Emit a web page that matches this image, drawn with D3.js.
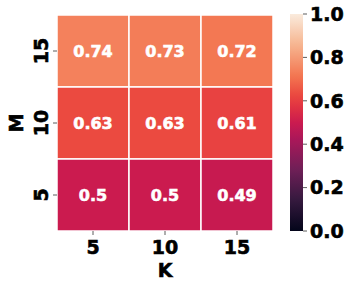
<!DOCTYPE html>
<html>
<head>
<meta charset="utf-8">
<script src="https://cdn.jsdelivr.net/npm/d3@7"></script>
<style>
  body { margin: 0; background: #fff; }
  text { font-family: "DejaVu Sans", sans-serif; font-weight: bold; stroke-width: 0.6px; }
</style>
</head>
<body>
<main></main>
<script>
// Data
const kValues = [5, 10, 15]
const mValues = [15, 10, 5]   // top to bottom
const scores = [
    [0.74, 0.73, 0.72],
    [0.63, 0.63, 0.61],
    [0.5, 0.5, 0.49]
]
const cbTicks = [0, 0.2, 0.4, 0.6, 0.8, 1.0]

// rocket colormap control points
const rocketStops = [0, 1 / 7, 2 / 7, 3 / 7, 0.5, 4 / 7, 0.63, 5 / 7, 6 / 7, 1]
const rocketColors = ['#03051a', '#35193e', '#701f57', '#ad1759', '#cb1b4f', '#e13342', '#eb4a40', '#f37651', '#f6b48f', '#faebdd']

function GeneratePlot() {
    const width = 350
    const height = 288
    const plot = { left: 57, top: 15, size: 216 }
    const bar = { left: 290, top: 14, width: 13, height: 217 }

    const color = d3.scaleLinear().domain(rocketStops).range(rocketColors).interpolate(d3.interpolateRgb)

    const svg = d3.select('main')
        .append('svg')
        .attr('width', width)
        .attr('height', height)

    const x = d3.scaleBand().domain(kValues).range([plot.left, plot.left + plot.size])
    const y = d3.scaleBand().domain(mValues).range([plot.top, plot.top + plot.size])

    const cells = scores.flatMap((row, i) => row.map((v, j) => ({ m: mValues[i], k: kValues[j], v })))

    svg.append('g')
        .selectAll('rect')
        .data(cells)
        .enter()
        .append('rect')
        .attr('x', d => x(d.k))
        .attr('y', d => y(d.m))
        .attr('width', x.bandwidth())
        .attr('height', y.bandwidth())
        .attr('fill', d => color(d.v))
        .attr('stroke', '#fff')
        .attr('stroke-width', 1.5)

    svg.append('g')
        .selectAll('text')
        .data(cells)
        .enter()
        .append('text')
        .attr('x', d => x(d.k) + x.bandwidth() / 2)
        .attr('y', d => y(d.m) + y.bandwidth() / 2)
        .attr('dy', '0.36em')
        .attr('text-anchor', 'middle')
        .attr('fill', '#fff')
        .attr('stroke', '#fff')
        .style('font-size', '16px')
        .text(d => String(+d.v.toFixed(2)))

    // x axis
    const xt = svg.append('g')
    kValues.forEach(k => {
        const cx = x(k) + x.bandwidth() / 2
        xt.append('line')
            .attr('x1', cx).attr('x2', cx)
            .attr('y1', plot.top + plot.size).attr('y2', plot.top + plot.size + 4)
            .attr('stroke', '#333').attr('stroke-width', 0.8)
        xt.append('text')
            .attr('x', cx).attr('y', 254)
            .attr('text-anchor', 'middle')
            .attr('stroke', '#000')
            .style('font-size', '19px')
            .text(k)
    })
    svg.append('text')
        .attr('x', plot.left + plot.size / 2).attr('y', 277)
        .attr('text-anchor', 'middle')
        .attr('stroke', '#000')
        .style('font-size', '19px')
        .text('K')

    // y axis
    const yt = svg.append('g')
    mValues.forEach(m => {
        const cy = y(m) + y.bandwidth() / 2
        yt.append('line')
            .attr('x1', plot.left - 4).attr('x2', plot.left)
            .attr('y1', cy).attr('y2', cy)
            .attr('stroke', '#333').attr('stroke-width', 0.8)
        yt.append('text')
            .attr('transform', `translate(48,${cy}) rotate(-90)`)
            .attr('text-anchor', 'middle')
            .attr('stroke', '#000')
            .style('font-size', '19px')
            .text(m)
    })
    svg.append('text')
        .attr('transform', `translate(23,${plot.top + plot.size / 2}) rotate(-90)`)
        .attr('text-anchor', 'middle')
        .attr('stroke', '#000')
        .style('font-size', '19px')
        .text('M')

    // colorbar
    const grad = svg.append('defs').append('linearGradient')
        .attr('id', 'cb')
        .attr('x1', 0).attr('y1', 1).attr('x2', 0).attr('y2', 0)
    d3.range(0, 1.0001, 0.02).forEach(t => {
        grad.append('stop').attr('offset', t).attr('stop-color', color(t))
    })
    svg.append('rect')
        .attr('x', bar.left).attr('y', bar.top)
        .attr('width', bar.width).attr('height', bar.height)
        .attr('fill', 'url(#cb)')

    const cy = d3.scaleLinear().domain([0, 1]).range([bar.top + bar.height, bar.top])
    const cb = svg.append('g')
    cbTicks.forEach(t => {
        cb.append('line')
            .attr('x1', bar.left + bar.width).attr('x2', bar.left + bar.width + 4)
            .attr('y1', cy(t)).attr('y2', cy(t))
            .attr('stroke', '#333').attr('stroke-width', 0.8)
        cb.append('text')
            .attr('x', 310).attr('y', cy(t))
            .attr('dy', '0.36em')
            .attr('stroke', '#000')
            .style('font-size', '19px')
            .text(t.toFixed(1))
    })
}

GeneratePlot()
</script>
</body>
</html>
